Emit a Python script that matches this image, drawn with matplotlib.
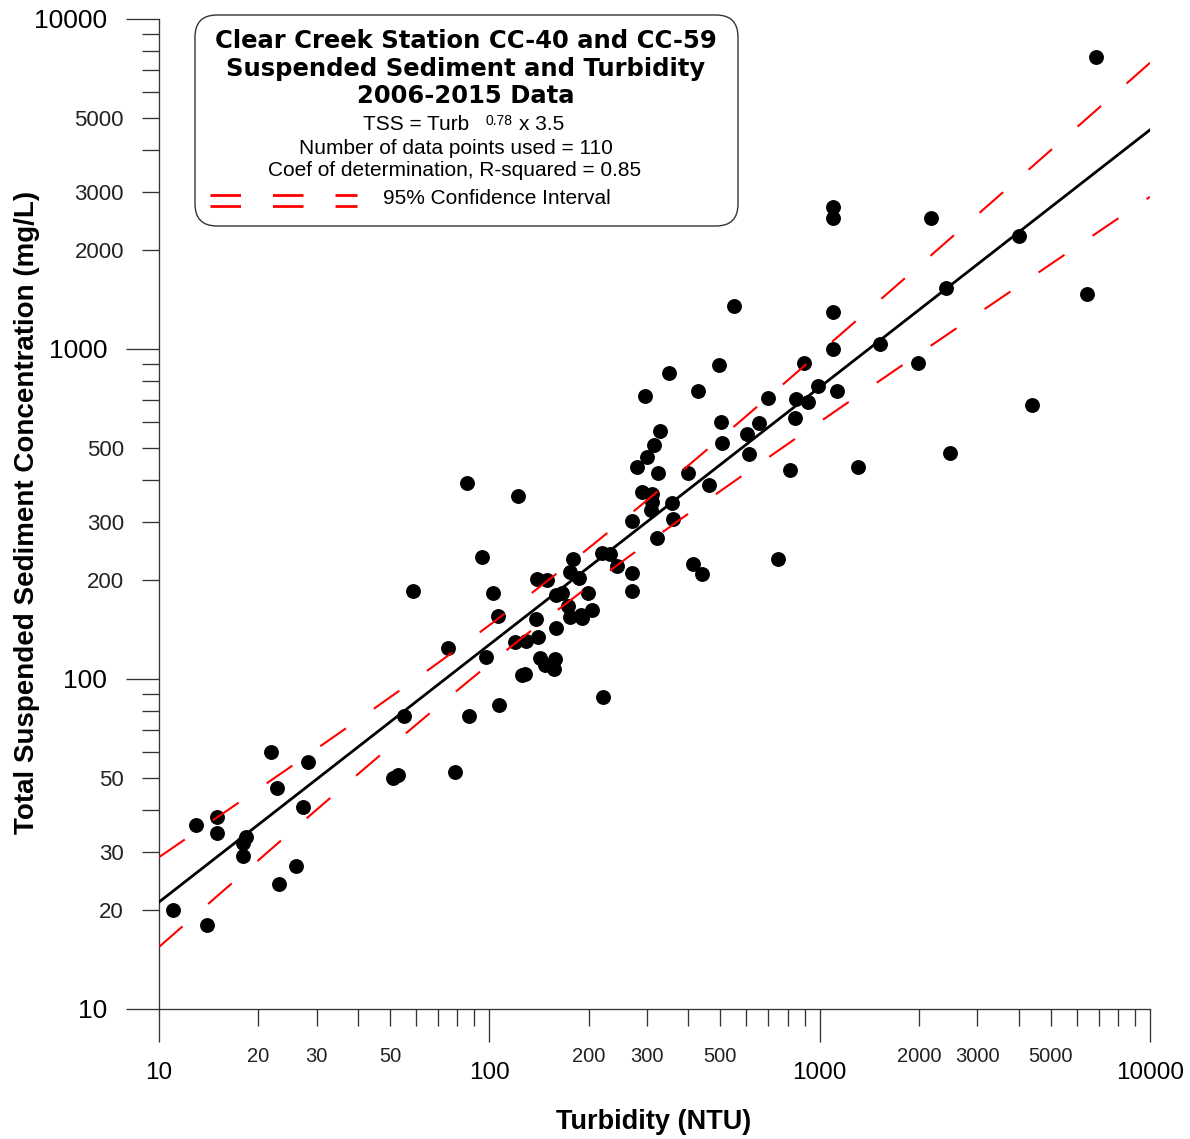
import numpy as np
import matplotlib
matplotlib.use("Agg")
import matplotlib.pyplot as plt
from matplotlib.patches import FancyBboxPatch
from matplotlib.lines import Line2D
from matplotlib.ticker import FixedLocator, FixedFormatter

plt.rcParams['font.family'] = ['Liberation Sans', 'DejaVu Sans']
plt.rcParams['lines.scale_dashes'] = False

# sample values: turbidity (NTU) vs TSS (mg/L)
turbidity = [11.0, 12.9, 14.0, 15.0, 15.0, 17.9, 18.0, 18.3, 21.9, 22.8,
             23.1, 26.0, 27.2, 28.2, 51.2, 53.0, 55.2, 78.6, 87.0, 58.9,
             74.8, 85.8, 95.2, 98.0, 102.8, 106.2, 106.9, 122.4, 119.6, 129.1,
             125.3, 128.2, 138.4, 139.7, 149.2, 140.7, 142.3, 147.4, 158.1, 157.0,
             158.8, 165.6, 158.8, 173.4, 175.5, 175.5, 179.6, 186.9, 189.5, 191.2,
             199.4, 205.0, 218.8, 231.8, 243.9, 221.3, 270.8, 270.8, 270.8, 279.3,
             289.2, 296.0, 300.8, 310.1, 310.1, 308.0, 315.8, 321.1, 324.7, 328.6,
             350.6, 358.0, 360.5, 400.2, 414.5, 429.2, 439.5, 463.4, 495.8, 501.7,
             505.3, 550.6, 601.4, 611.1, 655.2, 695.2, 746.4, 815.9, 842.0, 848.0,
             898.5, 923.9, 986.5, 1100, 1100, 1100, 1100, 1131, 1303, 1523,
             1989, 2173, 2413, 2481, 4013, 4404, 6460, 6864]
tss = [20.0, 36.1, 18.0, 38.1, 34.1, 29.1, 31.9, 33.3, 60.2, 46.8,
       23.9, 27.2, 40.8, 56.2, 50.2, 51.2, 77.3, 52.2, 77.3, 184.8,
       123.9, 391.7, 234.8, 116.8, 181.6, 155.7, 83.4, 359.4, 129.7, 130.3,
       102.8, 103.3, 151.7, 200.5, 199.5, 134.4, 115.5, 110.3, 114.7, 107.0,
       179.7, 181.9, 142.4, 166.8, 154.5, 211.4, 231.0, 201.9, 156.3, 152.7,
       181.9, 161.9, 240.4, 239.3, 220.0, 88.4, 302.2, 209.9, 185.0, 439.9,
       369.5, 722.1, 469.7, 363.6, 344.6, 325.2, 511.9, 267.0, 421.9, 564.4,
       843.9, 342.1, 304.7, 421.9, 223.1, 746.1, 207.6, 387.1, 894.3, 602.1,
       517.9, 1350, 552.7, 479.7, 596.7, 710.5, 231.0, 429.9, 620.0, 704.0,
       907.0, 689.4, 774.2, 2699, 2489, 1297, 1000, 746.1, 439.9, 1033,
       905.1, 2489, 1527, 483.1, 2200, 676.5, 1468, 7689]

# fitted relation shown in the box: TSS = 3.5 * Turb^0.78
fit_coef = 3.5
fit_expo = 0.78
# 95% confidence band (log10 half-width)
ci_center = 2.165
ci_a = 0.00316
ci_b = 0.0113

major_ticks = [10, 100, 1000, 10000]
minor_ticks = [m * d for d in (10, 100, 1000) for m in range(2, 10)]
minor_labeled = [20, 30, 50, 200, 300, 500, 2000, 3000, 5000]

W, H = 1190, 1139
fig = plt.figure(figsize=(W / 100, H / 100), dpi=100)
ax = fig.add_axes([159 / W, (H - 1009) / H, 991 / W, 990 / H])
ax.set_xscale('log')
ax.set_yscale('log')

ax.plot(turbidity, tss, 'o', color='black', markersize=9.7, zorder=2)

xs = np.logspace(1, 4, 500)
fit = fit_coef * xs ** fit_expo
half = np.sqrt(ci_a + ci_b * (np.log10(xs) - ci_center) ** 2)
ax.plot(xs, fit, color='black', lw=2.0, zorder=3)
ax.plot(xs, fit * 10 ** half, color='#ff0000', lw=1.5, dashes=(22.5, 24.5), zorder=4)
ax.plot(xs, fit / 10 ** half, color='#ff0000', lw=1.5, dashes=(22.5, 24.5), zorder=4)

ax.set_xlim(10, 10000)
ax.set_ylim(10, 10000)

for s in ('top', 'right'):
    ax.spines[s].set_visible(False)
for s in ('left', 'bottom'):
    ax.spines[s].set_color('#333333')
    ax.spines[s].set_linewidth(0.95)

minor_text = [str(v) if v in minor_labeled else '' for v in minor_ticks]
for axis in (ax.xaxis, ax.yaxis):
    axis.set_major_locator(FixedLocator(major_ticks))
    axis.set_major_formatter(FixedFormatter([str(v) for v in major_ticks]))
    axis.set_minor_locator(FixedLocator(minor_ticks))
    axis.set_minor_formatter(FixedFormatter(minor_text))

ax.tick_params(which='major', direction='out', length=23.8, width=0.95, color='#333333')
ax.tick_params(which='minor', direction='out', length=12.2, width=0.95, color='#333333')
ax.tick_params(axis='x', which='major', labelsize=17.5, pad=14.5)
ax.tick_params(axis='x', which='minor', labelsize=14.5, pad=15, labelcolor='#222222')
ax.tick_params(axis='y', which='major', labelsize=19, pad=13.5)
ax.tick_params(axis='y', which='minor', labelsize=16, pad=13, labelcolor='#222222')


def fx(px):
    return px / W


def fy(py):
    return 1 - py / H


fig.text(fx(654), fy(1122), 'Turbidity (NTU)', fontsize=19.5, fontweight='bold',
         ha='center', va='center')
fig.text(fx(27), fy(512), 'Total Suspended Sediment Concentration (mg/L)', fontsize=20,
         fontweight='bold', rotation=90, ha='center', va='center')

# information box
box = FancyBboxPatch((195, H - 226), 543, 211, boxstyle='round,pad=0,rounding_size=22',
                     transform=None, facecolor='white', edgecolor='#333333', lw=1.0, zorder=5)
fig.patches.append(box)

title_lines = ['Clear Creek Station CC-40 and CC-59',
               'Suspended Sediment and Turbidity',
               '2006-2015 Data']
for line, py in zip(title_lines, (41, 69, 96)):
    fig.text(fx(466), fy(py), line, family='DejaVu Sans', fontweight='bold', fontsize=17.5,
             ha='center', va='center', zorder=6)

fig.text(fx(469), fy(125), 'TSS = Turb', fontsize=15, ha='right', va='center', zorder=6)
fig.text(fx(486), fy(121), '0.78', fontsize=10, ha='left', va='center', zorder=6)
fig.text(fx(519), fy(125), 'x 3.5', fontsize=15, ha='left', va='center', zorder=6)
fig.text(fx(456), fy(149), 'Number of data points used = 110', fontsize=15,
         ha='center', va='center', zorder=6)
fig.text(fx(455), fy(171), 'Coef of determination, R-squared = 0.85', fontsize=15,
         ha='center', va='center', zorder=6)
fig.text(fx(383), fy(199), '95% Confidence Interval', fontsize=15,
         ha='left', va='center', zorder=6)
for py in (195, 206):
    fig.lines.append(Line2D([210, 357], [H - py, H - py], transform=None, color='#ff0000',
                            lw=2.0, dashes=(22, 23), zorder=6))

fig.savefig('out.png', dpi=100, facecolor='white')
